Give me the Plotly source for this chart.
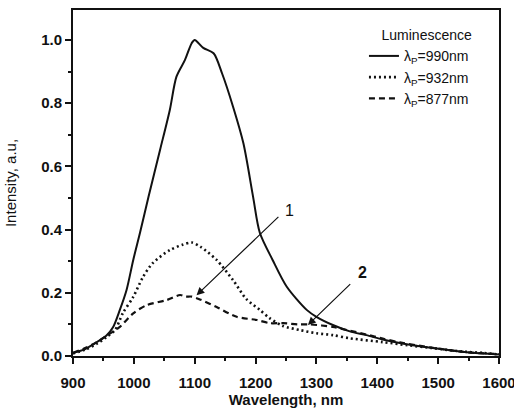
import plotly.graph_objects as go

# Luminescence spectra
x990 = [900, 920, 940, 955, 966, 977, 988, 999, 1010, 1024, 1043, 1059, 1070, 1084, 1095, 1100,
        1114, 1131, 1145, 1163, 1180, 1196, 1207, 1228, 1251, 1284, 1300, 1327, 1355, 1382,
        1409, 1437, 1491, 1547, 1600]
y990 = [0.010, 0.022, 0.045, 0.065, 0.092, 0.146, 0.209, 0.304, 0.389, 0.503, 0.652, 0.778,
        0.884, 0.937, 0.990, 1.000, 0.975, 0.958, 0.894, 0.789, 0.673, 0.503, 0.390, 0.304,
        0.220, 0.146, 0.124, 0.098, 0.078, 0.066, 0.052, 0.041, 0.025, 0.012, 0.005]

x932 = [900, 920, 940, 955, 969, 982, 999, 1015, 1031, 1059, 1080, 1095, 1110, 1136, 1163,
        1185, 1207, 1223, 1245, 1273, 1300, 1327, 1355, 1409, 1450, 1491, 1540, 1573, 1600]
y932 = [0.008, 0.020, 0.040, 0.060, 0.082, 0.136, 0.187, 0.250, 0.294, 0.335, 0.352, 0.359,
        0.345, 0.304, 0.240, 0.180, 0.146, 0.120, 0.095, 0.082, 0.072, 0.066, 0.056, 0.044,
        0.034, 0.025, 0.014, 0.010, 0.005]

x877 = [900, 920, 940, 960, 977, 999, 1021, 1054, 1076, 1085, 1095, 1110, 1136, 1169, 1202,
        1223, 1245, 1270, 1289, 1327, 1355, 1382, 1409, 1437, 1491, 1547, 1600]
y877 = [0.010, 0.025, 0.045, 0.070, 0.092, 0.135, 0.161, 0.177, 0.193, 0.188, 0.188, 0.178,
        0.155, 0.124, 0.114, 0.104, 0.104, 0.100, 0.100, 0.092, 0.080, 0.068, 0.055, 0.043,
        0.026, 0.012, 0.006]

names = ["λ<sub>P</sub>=990nm", "λ<sub>P</sub>=932nm", "λ<sub>P</sub>=877nm"]
x_ticks = [900, 1000, 1100, 1200, 1300, 1400, 1500, 1600]
y_ticks = [0.0, 0.2, 0.4, 0.6, 0.8, 1.0]
y_tick_text = ["0.0", "0.2", "0.4", "0.6", "0.8", "1.0"]

# annotation labels: (text x, text y, arrow head x, head y, tail x, tail y)
arrow1 = (1255, 0.462, 1103, 0.192, 1240, 0.445)
arrow2 = (1376, 0.263, 1286, 0.098, 1358, 0.232)

ink = "#111111"
fig = go.Figure()
fig.add_trace(go.Scatter(x=x990, y=y990, mode="lines", name=names[0],
                         line=dict(color=ink, width=2, shape="spline", smoothing=0.8)))
fig.add_trace(go.Scatter(x=x932, y=y932, mode="lines", name=names[1],
                         line=dict(color=ink, width=2.6, dash="2px,3px", shape="spline", smoothing=0.8)))
fig.add_trace(go.Scatter(x=x877, y=y877, mode="lines", name=names[2],
                         line=dict(color=ink, width=2.2, dash="6px,4px", shape="spline", smoothing=0.8)))

for (tx, ty, hx, hy, sx, sy), txt, bold in [(arrow1, "1", False), (arrow2, "2", True)]:
    fig.add_annotation(x=hx, y=hy, ax=sx, ay=sy, xref="x", yref="y", axref="x", ayref="y",
                       text="", showarrow=True, arrowhead=2, arrowsize=1.3, arrowwidth=1.2,
                       arrowcolor=ink)
    fig.add_annotation(x=tx, y=ty, xref="x", yref="y", showarrow=False,
                       text=("<b>%s</b>" % txt) if bold else txt,
                       font=dict(size=16, color=ink))

axis_common = dict(showline=True, linecolor=ink, linewidth=2, mirror=True,
                   ticks="outside", tickcolor=ink, tickwidth=2, showgrid=False,
                   zeroline=False, automargin=False,
                   tickfont=dict(size=15, color=ink, family="Liberation Sans"))

fig.update_xaxes(range=[900, 1600], tickvals=x_ticks, ticklen=6,
                 ticktext=["<b>%d</b>" % v for v in x_ticks],
                 ticklabeloverflow="allow",
                 minor=dict(ticks="outside", ticklen=3, dtick=50, tickcolor=ink, tickwidth=1.5),
                 title=dict(text="<b>Wavelength, nm</b>", font=dict(size=15, color=ink), standoff=4),
                 ticklabelstandoff=6,
                 **axis_common)
fig.update_yaxes(range=[0, 1.095], tickvals=y_ticks, ticklen=6,
                 ticktext=["<b>%s</b>" % t for t in y_tick_text],
                 minor=dict(ticks="outside", ticklen=3, dtick=0.1, tickcolor=ink, tickwidth=1.5),
                 title=dict(text="Intensity, a.u,", font=dict(size=15, color=ink), standoff=21),
                 **axis_common)

fig.update_layout(
    width=514, height=410,
    margin=dict(l=73, r=15, t=10, b=54),
    paper_bgcolor="white", plot_bgcolor="white",
    font=dict(family="Liberation Sans, Arial, sans-serif", color=ink),
    showlegend=True,
    legend=dict(x=0.683, y=0.965, xanchor="left", yanchor="top",
                bgcolor="rgba(0,0,0,0)", borderwidth=0,
                font=dict(size=14, color=ink), tracegroupgap=0,
                title=dict(text="&nbsp;&nbsp;&nbsp;&nbsp;Luminescence", font=dict(size=14, color=ink))),
)

fig.write_html("out.html", config={"displayModeBar": False},
               post_script="document.body.style.margin='0';document.body.style.overflow='hidden';")
